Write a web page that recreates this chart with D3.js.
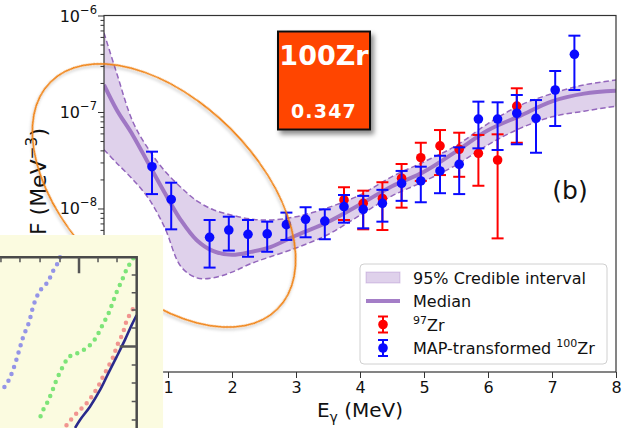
<!DOCTYPE html>
<html><head><meta charset="utf-8">
<script src="https://cdn.jsdelivr.net/npm/d3@7"></script>
<style>
body{margin:0;background:#fff}
svg{display:block}
text{font-family:"DejaVu Sans",sans-serif}
</style>
</head><body>
<svg id="c" width="635" height="428"></svg>
<script>
// ---- data ----
const blueE  = [0.75,1.05,1.65,1.95,2.25,2.55,2.85,3.15,3.45,3.75,4.05,4.35,4.65,4.95,5.25,5.55,5.85,6.15,6.45,6.75,7.05,7.35];
const blueV  = [2.71e-8,1.24e-8,5.03e-9,5.98e-9,5.4e-9,5.45e-9,6.8e-9,7.73e-9,7.41e-9,1.045e-8,9.8e-9,1.13e-8,1.82e-8,1.93e-8,2.45e-8,2.87e-8,8.45e-8,8.45e-8,9.7e-8,8.6e-8,1.69e-7,3.96e-7];
const blueLo = [1.41e-8,6.08e-9,2.44e-9,3.66e-9,3.16e-9,3.56e-9,4.72e-9,5.03e-9,4.8e-9,7.13e-9,6.23e-9,7.3e-9,1.2e-8,1.16e-8,1.44e-8,1.41e-8,4.2e-8,4.04e-8,4.63e-8,3.78e-8,7.16e-8,1.69e-7];
const blueHi = [3.88e-8,1.85e-8,7.6e-9,8.22e-9,7.6e-9,7.3e-9,9.06e-9,1.03e-8,9.8e-9,1.38e-8,1.35e-8,1.56e-8,2.45e-8,2.71e-8,3.52e-8,4.3e-8,1.28e-7,1.26e-7,1.5e-7,1.33e-7,2.66e-7,6.18e-7];

const redE  = [3.75,4.05,4.35,4.65,4.95,5.25,5.55,5.85,6.15,6.45];
const redV  = [1.225e-8,1.13e-8,1.27e-8,2.06e-8,3.36e-8,4.45e-8,4.1e-8,3.73e-8,3.18e-8,1.15e-7];
const redLo = [7.6e-9,6.08e-9,5.98e-9,1.02e-8,1.93e-8,2.22e-8,2.13e-8,1.72e-8,4.9e-9,4.8e-8];
const redHi = [1.66e-8,1.53e-8,1.87e-8,2.89e-8,4.8e-8,6.5e-8,6.1e-8,5.78e-8,5.87e-8,1.76e-7];

const curveE   = [0,0.2,0.45,0.7,0.95,1.2,1.45,1.7,2.0,2.3,2.6,3.0,3.5,4.0,4.5,5.0,5.5,6.0,6.5,7.0,7.5,8.0];
const bandHigh = [6.61e-7,2.51e-7,7.94e-8,4.07e-8,2.45e-8,1.66e-8,1.20e-8,9.77e-9,8.51e-9,7.76e-9,7.59e-9,8.22e-9,1.02e-8,1.38e-8,2.14e-8,3.05e-8,4.47e-8,7.59e-8,1.17e-7,1.55e-7,1.91e-7,2.14e-7];
const medianV  = [1.91e-7,1.05e-7,5.75e-8,2.88e-8,1.45e-8,7.59e-9,4.68e-9,3.63e-9,3.31e-9,3.55e-9,3.98e-9,5.25e-9,7.24e-9,1.10e-8,1.70e-8,2.40e-8,3.89e-8,6.46e-8,9.12e-8,1.29e-7,1.55e-7,1.66e-7];
const bandLow  = [4.07e-8,2.95e-8,2.00e-8,1.26e-8,6.31e-9,2.51e-9,1.91e-9,1.91e-9,2.19e-9,2.69e-9,3.16e-9,3.89e-9,5.37e-9,8.51e-9,1.35e-8,1.91e-8,2.82e-8,4.57e-8,6.76e-8,8.91e-8,1.02e-7,1.15e-7];

const xTicks = [0,1,2,3,4,5,6,7,8];
const yExps  = [-9,-8,-7,-6];

// inset (pasted figure fragment) in its own unit coordinates
const insBlueU  = [0.439,0.415,0.378,0.353,0.329,0.287,0.244,0.212,0.170,0.141,0.110,0.078,0.044,0.012];
const insBlueV  = [1.0,0.955,0.906,0.857,0.838,0.798,0.715,0.619,0.535,0.457,0.375,0.305,0.252,0.223];
const insGreenU = [0.975,0.927,0.890,0.854,0.824,0.792,0.756,0.724,0.695,0.658,0.629,0.598,0.565,0.536,0.507,0.483,0.451,0.415,0.383,0.349,0.312,0.280];
const insGreenV = [0.994,0.930,0.861,0.798,0.734,0.668,0.613,0.561,0.521,0.486,0.467,0.451,0.438,0.428,0.418,0.393,0.346,0.285,0.219,0.154,0.100,0.031];
const insRedU   = [0.971,0.927,0.898,0.858,0.829,0.792,0.756,0.724,0.690,0.653,0.622,0.585,0.549,0.517,0.483];
const insRedV   = [0.695,0.629,0.555,0.486,0.418,0.359,0.305,0.252,0.207,0.164,0.135,0.105,0.076,0.047,0.012];
const insLineU  = [1.0,0.963,0.914,0.854,0.792,0.732,0.658,0.585,0.549];
const insLineV  = [0.662,0.603,0.516,0.418,0.320,0.223,0.125,0.047,0.0];
const insTopTicks   = [0.007,0.146,0.293,0.439,0.578,0.717,0.856];
const insRightTicks = [0.896,0.793,0.691,0.586,0.477,0.369,0.264,0.155,0.047];

const legendLabels = ["95% Credible interval","Median","97Zr","MAP-transformed 100Zr"];

// ---- layout ----
const svg = d3.select("#c");
const L=104, R=616, T=15.5, B=372;
const x = d3.scaleLinear().domain([0,8]).range([L,R]);
const y = d3.scaleLog().domain([2.02e-10,1e-6]).range([B,T]);
const purple = "#9467bd";

const defs = svg.append("defs");
const f1 = defs.append("filter").attr("id","sh").attr("x","-20%").attr("y","-20%").attr("width","150%").attr("height","150%");
f1.append("feDropShadow").attr("dx",3).attr("dy",4).attr("stdDeviation",2.5).attr("flood-color","#000").attr("flood-opacity",0.45);
const f2 = defs.append("filter").attr("id","sh2").attr("x","-10%").attr("y","-10%").attr("width","120%").attr("height","120%");
f2.append("feDropShadow").attr("dx",1).attr("dy",2).attr("stdDeviation",1.5).attr("flood-color","#000").attr("flood-opacity",0.25);
defs.append("clipPath").attr("id","plotclip").append("rect").attr("x",L).attr("y",T).attr("width",R-L).attr("height",B-T);

const pts = curveE.map((e,i)=>({e,lo:bandLow[i],hi:bandHigh[i],m:medianV[i]}));
const gp = svg.append("g").attr("clip-path","url(#plotclip)");
gp.append("path").datum(pts)
  .attr("d", d3.area().x(d=>x(d.e)).y0(d=>y(d.lo)).y1(d=>y(d.hi)).curve(d3.curveCatmullRom))
  .attr("fill", purple).attr("fill-opacity",0.3);
["lo","hi"].forEach(k=>{
  gp.append("path").datum(pts)
    .attr("d", d3.line().x(d=>x(d.e)).y(d=>y(d[k])).curve(d3.curveCatmullRom))
    .attr("fill","none").attr("stroke",purple).attr("stroke-width",1.5).attr("stroke-dasharray","5.5,3");
});
gp.append("path").datum(pts)
  .attr("d", d3.line().x(d=>x(d.e)).y(d=>y(d.m)).curve(d3.curveCatmullRom))
  .attr("fill","none").attr("stroke",purple).attr("stroke-opacity",0.85).attr("stroke-width",4);

function errorbars(E,V,Lo,Hi,color){
  const g = svg.append("g");
  E.forEach((e,i)=>{
    const cx=x(e);
    g.append("line").attr("x1",cx).attr("x2",cx).attr("y1",y(Lo[i])).attr("y2",y(Hi[i])).attr("stroke",color).attr("stroke-width",2);
    [Lo[i],Hi[i]].forEach(v=>g.append("line").attr("x1",cx-6).attr("x2",cx+6).attr("y1",y(v)).attr("y2",y(v)).attr("stroke",color).attr("stroke-width",2));
    g.append("circle").attr("cx",cx).attr("cy",y(V[i])).attr("r",4.8).attr("fill",color);
  });
}
errorbars(redE,redV,redLo,redHi,"#ff0000");
errorbars(blueE,blueV,blueLo,blueHi,"#0a0aff");

// ---- axes ----
const ax = svg.append("g");
ax.append("rect").attr("x",L).attr("y",T).attr("width",R-L).attr("height",B-T).attr("fill","none").attr("stroke","#333").attr("stroke-width",1.2);
const xa = ax.append("g").attr("transform",`translate(0,${B})`)
  .call(d3.axisBottom(x).tickValues(xTicks).tickSize(6).tickPadding(4).tickFormat(d3.format("d")));
xa.select(".domain").remove();
xa.selectAll("text").attr("font-size",16).attr("font-family","DejaVu Sans").attr("fill","#111");
xa.selectAll("line").attr("stroke","#333");

const minors=[];
yExps.forEach(p=>{for(let k=2;k<10;k++){const v=k*Math.pow(10,p); if(v<1e-6 && v>2.02e-10) minors.push(v);}});
const ym = ax.append("g").attr("transform",`translate(${L},0)`).call(d3.axisLeft(y).tickValues(minors).tickSize(3.5).tickFormat(""));
ym.select(".domain").remove(); ym.selectAll("line").attr("stroke","#333");
const yM = ax.append("g").attr("transform",`translate(${L},0)`).call(d3.axisLeft(y).tickValues(yExps.map(p=>Math.pow(10,p))).tickSize(6).tickFormat(""));
yM.select(".domain").remove(); yM.selectAll("line").attr("stroke","#333");
yExps.forEach(p=>{
  const t = ax.append("text").attr("x",97).attr("y",y(Math.pow(10,p))+6).attr("text-anchor","end").attr("font-size",16).attr("fill","#111");
  t.append("tspan").text("10");
  t.append("tspan").attr("dy",-8).attr("font-size",11.5).text("\u2212"+Math.abs(p));
});
// axis labels
const xl = svg.append("text").attr("x",(L+R)/2).attr("y",417).attr("text-anchor","middle").attr("font-size",20).attr("fill","#111");
xl.append("tspan").text("E");
xl.append("tspan").attr("dy",5).attr("font-size",14).text("\u03b3");
xl.append("tspan").attr("dy",-5).text(" (MeV)");
const yl = svg.append("text").attr("transform","translate(46,128) rotate(-90)").attr("text-anchor","end").attr("font-size",22).attr("fill","#111");
yl.append("tspan").text("\u03b3SF (MeV");
yl.append("tspan").attr("dy",-9).attr("font-size",15.4).text("\u22123");
yl.append("tspan").attr("dy",9).text(")");

svg.append("text").attr("x",570).attr("y",199).attr("text-anchor","middle").attr("font-size",25).attr("fill","#111").text("(b)");

// ---- legend ----
const lg = svg.append("g");
lg.append("rect").attr("x",360).attr("y",264).attr("width",247).attr("height",100).attr("rx",4)
  .attr("fill","#fff").attr("fill-opacity",0.85).attr("stroke","#d0d0d0");
const rowY=[277.5,301,324.5,348];
lg.append("rect").attr("x",366).attr("y",rowY[0]-5.5).attr("width",34).attr("height",11).attr("fill",purple).attr("fill-opacity",0.3).attr("stroke",purple).attr("stroke-opacity",0.3);
lg.append("line").attr("x1",366).attr("x2",400).attr("y1",rowY[1]).attr("y2",rowY[1]).attr("stroke",purple).attr("stroke-opacity",0.85).attr("stroke-width",4);
[["#ff0000",rowY[2]],["#0a0aff",rowY[3]]].forEach(([c,yy])=>{
  lg.append("line").attr("x1",383).attr("x2",383).attr("y1",yy-8).attr("y2",yy+8).attr("stroke",c).attr("stroke-width",2);
  [yy-8,yy+8].forEach(v=>lg.append("line").attr("x1",378).attr("x2",388).attr("y1",v).attr("y2",v).attr("stroke",c).attr("stroke-width",2));
  lg.append("circle").attr("cx",383).attr("cy",yy).attr("r",4.8).attr("fill",c);
});
const lt = (i)=>lg.append("text").attr("x",413).attr("y",rowY[i]+6).attr("font-size",16).attr("fill","#111");
lt(0).text(legendLabels[0]);
lt(1).text(legendLabels[1]);
const t2=lt(2); t2.append("tspan").attr("dy",-7).attr("font-size",11).text("97"); t2.append("tspan").attr("dy",7).text("Zr");
const t3=lt(3); t3.append("tspan").text("MAP-transformed "); t3.append("tspan").attr("dy",-7).attr("font-size",11).text("100"); t3.append("tspan").attr("dy",7).text("Zr");

// ---- orange ellipse annotation ----
svg.append("ellipse").attr("cx",0).attr("cy",0).attr("rx",160.5).attr("ry",94.4)
  .attr("transform","translate(164,195.5) rotate(45)")
  .attr("fill","none").attr("stroke","#f07f10").attr("stroke-width",1.6).attr("filter","url(#sh2)");

// ---- inset fragment ----
const ix = d3.scaleLinear().domain([0,1]).range([0,136.7]);
const iy = d3.scaleLinear().domain([0,1]).range([428,257.3]);
const ig = svg.append("g");
defs.append("clipPath").attr("id","insclip").append("rect").attr("x",0).attr("y",235).attr("width",163.3).attr("height",193);
ig.attr("clip-path","url(#insclip)");
ig.append("rect").attr("x",0).attr("y",235).attr("width",163.3).attr("height",193).attr("fill","#fbfbe0");
const dotted=(U,V,c)=>ig.append("path").datum(U.map((u,i)=>[u,V[i]]))
  .attr("d",d3.line().x(d=>ix(d[0])).y(d=>iy(d[1])).curve(d3.curveCatmullRom))
  .attr("fill","none").attr("stroke",c).attr("stroke-width",4.5).attr("stroke-linecap","round").attr("stroke-dasharray","0,7.5").attr("stroke-opacity",0.8);
dotted(insBlueU,insBlueV,"#7a7ae8");
dotted(insGreenU,insGreenV,"#5ede5e");
dotted(insRedU,insRedV,"#ef7a7a");
ig.append("path").datum(insLineU.map((u,i)=>[u,insLineV[i]]))
  .attr("d",d3.line().x(d=>ix(d[0])).y(d=>iy(d[1])).curve(d3.curveCatmullRom))
  .attr("fill","none").attr("stroke","#2a2a8c").attr("stroke-width",2.6);
ig.append("path").attr("d",`M${ix(0)},${iy(1)}H${ix(1)}V${iy(0)}`).attr("fill","none").attr("stroke","#4a4a4a").attr("stroke-width",2.5);
insTopTicks.forEach((u,i)=>ig.append("line").attr("x1",ix(u)).attr("x2",ix(u)).attr("y1",iy(1)).attr("y2",iy(1)+(i===4?16:5)).attr("stroke","#555").attr("stroke-width",i===4?2.5:1.5));
insRightTicks.forEach((v,i)=>ig.append("line").attr("x1",ix(1)).attr("x2",ix(1)-(i===4?17:5)).attr("y1",iy(v)).attr("y2",iy(v)).attr("stroke","#555").attr("stroke-width",i===4?2.5:1.5));

// ---- red label box ----
const bx = svg.append("g");
bx.append("rect").attr("x",278).attr("y",31.5).attr("width",92).attr("height",98).attr("fill","#ff4500").attr("stroke","#111").attr("stroke-width",2).attr("filter","url(#sh)");
bx.append("text").attr("x",324).attr("y",64.5).attr("text-anchor","middle").attr("font-family","Liberation Sans, Arial, sans-serif").attr("font-weight","bold").attr("font-size",27).attr("fill","#fff").text("100Zr");
bx.append("text").attr("x",324).attr("y",117.5).attr("text-anchor","middle").attr("font-family","Liberation Sans, Arial, sans-serif").attr("font-weight","bold").attr("font-size",19).attr("letter-spacing",1.2).attr("fill","#fff").text("0.347");
</script>
</body></html>
